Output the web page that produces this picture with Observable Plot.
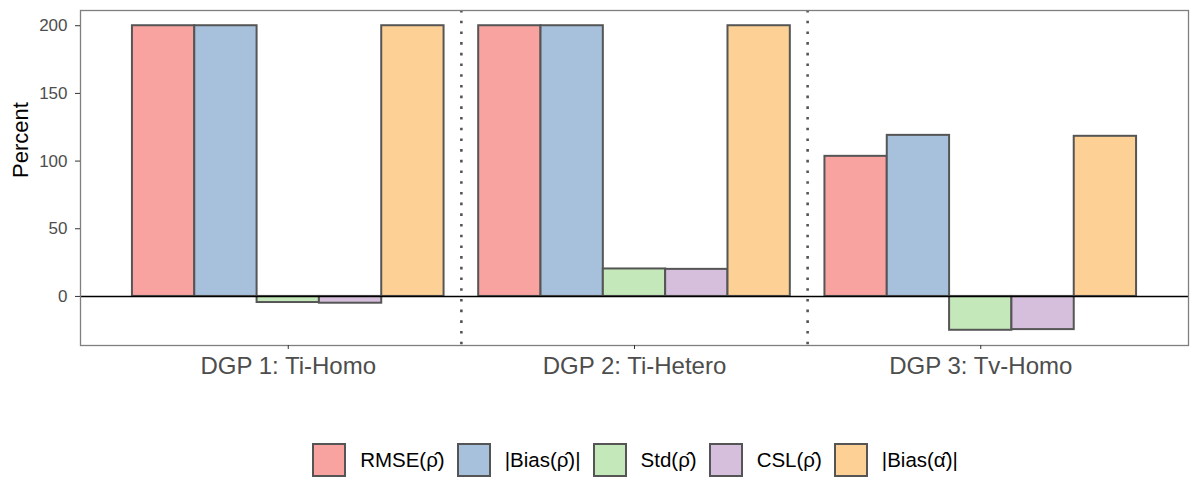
<!DOCTYPE html>
<html>
<head>
<meta charset="utf-8">
<script src="https://cdn.jsdelivr.net/npm/d3@7"></script>
<script src="https://cdn.jsdelivr.net/npm/@observablehq/plot@0.6"></script>
<style>
  body { margin: 0; background: #fff; font-family: "Liberation Sans", Arial, sans-serif; }
  #chart svg { display: block; }
  #legend { display: flex; justify-content: center; align-items: center; margin-top: 43px; padding-left: 82px; font-size: 20.5px; color: #000; }
  .item { display: flex; align-items: center; margin-right: 12px; }
  .key { width: 30px; height: 30px; border: 2px solid #555; margin-right: 14px; box-sizing: content-box; }
</style>
</head>
<body>
<div id="chart"></div>
<div id="legend"></div>
<script>
const categories = ["DGP 1: Ti-Homo", "DGP 2: Ti-Hetero", "DGP 3: Tv-Homo"];
const series = ["RMSE(ρ̂)", "|Bias(ρ̂)|", "Std(ρ̂)", "CSL(ρ̂)", "|Bias(α̂)|"];
const colors = ["#F8A39F", "#A7C1DC", "#C4E8BA", "#D6BFDD", "#FDD195"];
const rmseRho = [200, 200, 103.5];
const biasRho = [200, 200, 119];
const stdRho = [-4.5, 20.3, -25];
const cslRho = [-5, 20, -24.5];
const biasAlpha = [200, 200, 118.3];
const separators = [1.5, 2.5];
const yTicks = [0, 50, 100, 150, 200];

const seriesValues = [rmseRho, biasRho, stdRho, cslRho, biasAlpha];
const data = [];
categories.forEach((c, i) => {
  series.forEach((s, j) => {
    data.push({cat: c, pos: i + 1, sIdx: j, series: s, value: seriesValues[j][i]});
  });
});

// ggplot-style dodge: total group width 0.9, split among series
const groupWidth = 0.9;
const barW = groupWidth / series.length;
const yMin = Math.min(0, d3.min(data, d => d.value));
const yMax = d3.max(data, d => d.value);
const pad = (yMax - yMin) * 0.05;

const plot = Plot.plot({
  width: 1200,
  height: 400,
  marginLeft: 80,
  marginRight: 12,
  marginTop: 10,
  marginBottom: 55,
  style: {fontFamily: "Liberation Sans, Arial, sans-serif", background: "#fff"},
  x: {domain: [0.4, 3.6], axis: null},
  y: {domain: [yMin - pad, yMax + pad], axis: null},
  color: {domain: series, range: colors},
  marks: [
    Plot.rect(data, {
      x1: d => d.pos - groupWidth / 2 + d.sIdx * barW,
      x2: d => d.pos - groupWidth / 2 + (d.sIdx + 1) * barW,
      y1: 0,
      y2: "value",
      fill: "series",
      stroke: "#555",
      strokeWidth: 2
    }),
    Plot.ruleY([0], {stroke: "#000", strokeWidth: 1.5}),
    Plot.ruleX(separators, {stroke: "#555", strokeWidth: 2.6, strokeDasharray: "2.6,8.1"}),
    Plot.frame({stroke: "#7f7f7f", strokeWidth: 1.3}),
    Plot.axisY({ticks: yTicks, tickSize: 5, tickPadding: 8, fontSize: 17, color: "#4d4d4d", stroke: "#333", label: null}),
    Plot.axisX({ticks: [1, 2, 3], tickFormat: d => categories[d - 1], tickSize: 4, tickPadding: 7, fontSize: 24, color: "#4d4d4d", stroke: "#333", label: null}),
    Plot.text(["Percent"], {frameAnchor: "left", rotate: -90, dx: -60, fontSize: 22, fill: "#000"})
  ]
});
document.getElementById("chart").appendChild(plot);

const legend = d3.select("#legend");
series.forEach((s, j) => {
  const item = legend.append("div").attr("class", "item");
  item.append("div").attr("class", "key").style("background", colors[j]);
  item.append("span").text(s);
});
</script>
</body>
</html>
